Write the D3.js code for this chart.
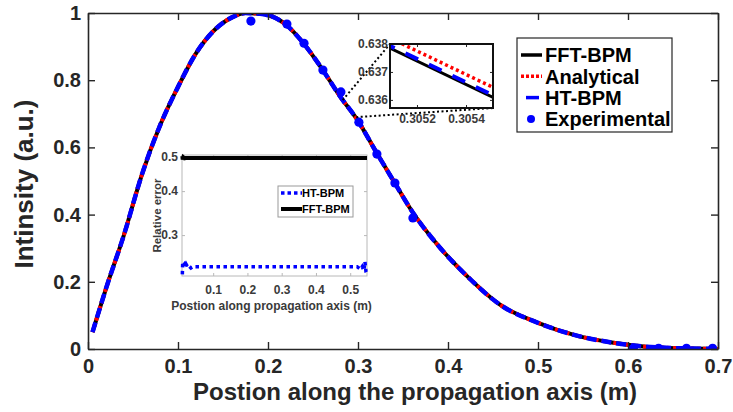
<!DOCTYPE html>
<html>
<head>
<meta charset="utf-8">
<script src="https://cdn.jsdelivr.net/npm/d3@7"></script>
<style>
  html, body { margin: 0; padding: 0; background: #fff; }
  svg text { font-family: "Liberation Sans", Arial, sans-serif; font-weight: bold; }
</style>
</head>
<body>
<svg id="chart" width="733" height="412"></svg>
<script>
// ---- Main intensity profile along the propagation axis ----
const posX = [0.005, 0.02, 0.04, 0.06, 0.08, 0.10, 0.12, 0.14, 0.16, 0.175, 0.19, 0.20,
              0.22, 0.24, 0.26, 0.28, 0.30, 0.32, 0.34, 0.36, 0.39, 0.42, 0.46, 0.50,
              0.54, 0.58, 0.62, 0.66, 0.70];
const analytical = [0.05, 0.18, 0.34, 0.52, 0.665, 0.78, 0.88, 0.948, 0.987, 1.0, 0.998, 0.994,
                    0.965, 0.908, 0.834, 0.752, 0.679, 0.587, 0.498, 0.41, 0.305, 0.22, 0.128, 0.078,
                    0.042, 0.02, 0.007, 0.002, 0.0];
const fftBpm = analytical.slice();
const htBpm = analytical.slice();

// Measured intensities
const expX = [0.181, 0.200, 0.221, 0.240, 0.261, 0.281, 0.301, 0.321, 0.341, 0.361, 0.606, 0.634, 0.665, 0.694];
const expY = [0.976, 1.0, 0.967, 0.91, 0.83, 0.765, 0.675, 0.58, 0.494, 0.39, 0.002, 0.002, 0.002, 0.002];

const xTicks = [0, 0.1, 0.2, 0.3, 0.4, 0.5, 0.6, 0.7];
const yTicks = [0, 0.2, 0.4, 0.6, 0.8, 1];
const legendNames = ["FFT-BPM", "Analytical", "HT-BPM", "Experimental"];

// ---- Magnified detail near z = 0.3052 m ----
const zoomX = [0.30505, 0.30555];
const zoomFft = [0.63802, 0.63592];
const zoomAnalytical = [0.63838, 0.63628];
const zoomHt = [0.63810, 0.63600];
const zoomXTicks = [0.3052, 0.3054];
const zoomYTicks = [0.636, 0.637, 0.638];
// points on the main curve that the magnified box refers to
const zoomLinkFrom = [[0.283, 0.741], [0.298, 0.690]];

// ---- Relative error along the propagation axis ----
const errHtX = [0.010, 0.011, 0.013, 0.016, 0.019, 0.022, 0.026, 0.030, 0.035, 0.040, 0.05, 0.1, 0.2, 0.3,
                0.4, 0.5, 0.52, 0.53, 0.535, 0.54, 0.543, 0.546, 0.549];
const errHtY = [0.232, 0.250, 0.246, 0.248, 0.242, 0.247, 0.243, 0.245, 0.242, 0.244, 0.244, 0.244, 0.244, 0.244,
                0.244, 0.244, 0.244, 0.240, 0.244, 0.238, 0.252, 0.236, 0.233];
const errFftX = [0.010, 0.011, 0.013, 0.016, 0.020, 0.1, 0.2, 0.3, 0.4, 0.5, 0.549];
const errFftY = [0.503, 0.492, 0.499, 0.496, 0.497, 0.497, 0.497, 0.497, 0.497, 0.497, 0.497];
const errXTicks = [0.1, 0.2, 0.3, 0.4, 0.5];
const errYTicks = [0.3, 0.4, 0.5];
const errLegendNames = ["HT-BPM", "FFT-BPM"];

const AX = "#262626";
const BLUE = "#0000ff";
const RED = "#ff0000";
const svg = d3.select("#chart");

// ================= main axes =================
const M = {left: 88, top: 13, right: 718, bottom: 349};
const x = d3.scaleLinear().domain([0, 0.7]).range([M.left, M.right]);
const y = d3.scaleLinear().domain([0, 1]).range([M.bottom, M.top]);

svg.append("defs").append("clipPath").attr("id", "mainClip")
  .append("rect").attr("x", M.left).attr("y", M.top)
  .attr("width", M.right - M.left).attr("height", M.bottom - M.top);

const line = d3.line().x(d => x(d[0])).y(d => y(d[1])).curve(d3.curveMonotoneX);
const plot = svg.append("g").attr("clip-path", "url(#mainClip)");

plot.append("path").datum(posX.map((v, i) => [v, fftBpm[i]]))
  .attr("d", line).attr("fill", "none").attr("stroke", "#000").attr("stroke-width", 4);
plot.append("path").datum(posX.map((v, i) => [v, analytical[i]]))
  .attr("d", line).attr("fill", "none").attr("stroke", RED).attr("stroke-width", 4)
  .attr("stroke-dasharray", "3,3");
plot.append("path").datum(posX.map((v, i) => [v, htBpm[i]]))
  .attr("d", line).attr("fill", "none").attr("stroke", BLUE).attr("stroke-width", 4.5)
  .attr("stroke-dasharray", "10,5");
plot.selectAll("circle.exp").data(expX.map((v, i) => [v, expY[i]])).join("circle")
  .attr("class", "exp").attr("cx", d => x(d[0])).attr("cy", d => y(d[1]))
  .attr("r", 4.6).attr("fill", BLUE);

// axis box with inward ticks on all four sides
const tickLen = 7;
function styleAxis(g) {
  g.select(".domain").attr("stroke", AX).attr("stroke-width", 1.6);
  g.selectAll(".tick line").attr("stroke", AX).attr("stroke-width", 1.4);
  g.selectAll(".tick text").attr("fill", AX).style("font-size", "20px");
}
svg.append("g").attr("transform", `translate(0,${M.bottom})`)
  .call(d3.axisBottom(x).tickValues(xTicks).tickFormat(d3.format("")).tickSize(-tickLen).tickSizeOuter(0).tickPadding(9))
  .call(styleAxis)
  .call(g => g.selectAll(".tick text").attr("dy", "0.76em"));
svg.append("g").attr("transform", `translate(0,${M.top})`)
  .call(d3.axisTop(x).tickValues(xTicks).tickFormat("").tickSize(-tickLen).tickSizeOuter(0))
  .call(styleAxis);
svg.append("g").attr("transform", `translate(${M.left},0)`)
  .call(d3.axisLeft(y).tickValues(yTicks).tickFormat(d3.format("")).tickSize(-tickLen).tickSizeOuter(0).tickPadding(7))
  .call(styleAxis);
svg.append("g").attr("transform", `translate(${M.right},0)`)
  .call(d3.axisRight(y).tickValues(yTicks).tickFormat("").tickSize(-tickLen).tickSizeOuter(0))
  .call(styleAxis);

svg.append("text").attr("x", 415).attr("y", 400)
  .attr("text-anchor", "middle").attr("fill", AX).style("font-size", "24px")
  .text("Postion along the propagation axis (m)");
svg.append("text").attr("transform", `translate(33,${(M.top + M.bottom) / 2 + 3}) rotate(-90)`)
  .attr("text-anchor", "middle").attr("fill", AX).style("font-size", "26px")
  .text("Intinsity (a.u.)");

// ---- main legend ----
const L = {x: 517, y: 38, w: 155, h: 94};
const lg = svg.append("g");
lg.append("rect").attr("x", L.x).attr("y", L.y).attr("width", L.w).attr("height", L.h)
  .attr("fill", "#fff").attr("stroke", AX).attr("stroke-width", 1.2);
const lgStyles = [
  {stroke: "#000", dash: null, w: 3.5, x1: 521, x2: 542},
  {stroke: RED, dash: "3,2", w: 3.5, x1: 521, x2: 542},
  {stroke: BLUE, dash: null, w: 3.5, x1: 526, x2: 539}
];
legendNames.forEach((name, i) => {
  const cy = 55 + i * 21.3;
  if (i < 3) {
    const s = lgStyles[i];
    lg.append("line").attr("x1", s.x1).attr("x2", s.x2).attr("y1", cy).attr("y2", cy)
      .attr("stroke", s.stroke).attr("stroke-width", s.w).attr("stroke-dasharray", s.dash);
  } else {
    lg.append("circle").attr("cx", 531).attr("cy", cy).attr("r", 4).attr("fill", BLUE);
  }
  lg.append("text").attr("x", 545).attr("y", cy).attr("dy", "0.36em")
    .attr("fill", "#000").style("font-size", "20px").text(name);
});

// ================= magnified inset =================
const Z = {left: 390, top: 44, right: 493, bottom: 108};
const zx = d3.scaleLinear().domain([0.30509, 0.30551]).range([Z.left, Z.right]);
const zy = d3.scaleLinear().domain([0.63571, 0.638]).range([Z.bottom, Z.top]);

// connector lines from the curve to the inset corners
const zoomCorners = [[Z.left, Z.top], [Z.right, Z.bottom]];
zoomLinkFrom.forEach((p, i) => {
  svg.append("line").attr("x1", x(p[0])).attr("y1", y(p[1]))
    .attr("x2", zoomCorners[i][0]).attr("y2", zoomCorners[i][1])
    .attr("stroke", "#000").attr("stroke-width", 2).attr("stroke-dasharray", "2,2.5");
});

svg.append("rect").attr("x", Z.left).attr("y", Z.top).attr("width", Z.right - Z.left)
  .attr("height", Z.bottom - Z.top).attr("fill", "#fff");
svg.select("defs").append("clipPath").attr("id", "zoomClip")
  .append("rect").attr("x", Z.left).attr("y", Z.top)
  .attr("width", Z.right - Z.left).attr("height", Z.bottom - Z.top);
const zl = d3.line().x(d => zx(d[0])).y(d => zy(d[1]));
const zp = svg.append("g").attr("clip-path", "url(#zoomClip)");
zp.append("path").datum(zoomX.map((v, i) => [v, zoomFft[i]])).attr("d", zl)
  .attr("fill", "none").attr("stroke", "#000").attr("stroke-width", 3);
zp.append("path").datum(zoomX.map((v, i) => [v, zoomAnalytical[i]])).attr("d", zl)
  .attr("fill", "none").attr("stroke", RED).attr("stroke-width", 3.5).attr("stroke-dasharray", "3,3");
zp.append("path").datum(zoomX.map((v, i) => [v, zoomHt[i]])).attr("d", zl)
  .attr("fill", "none").attr("stroke", BLUE).attr("stroke-width", 4).attr("stroke-dasharray", "14,12")
  .attr("stroke-dashoffset", -2);

function styleSmall(size) {
  return g => {
    g.select(".domain").remove();
    g.selectAll(".tick line").attr("stroke", AX).attr("stroke-width", 1);
    g.selectAll(".tick text").attr("fill", "#3a3a3a").style("font-size", size);
  };
}
svg.append("g").attr("transform", `translate(0,${Z.bottom})`)
  .call(d3.axisBottom(zx).tickValues(zoomXTicks).tickFormat(d3.format(".4f")).tickSize(-3).tickPadding(6))
  .call(styleSmall("12px"));
svg.append("g").attr("transform", `translate(0,${Z.top})`)
  .call(d3.axisTop(zx).tickValues(zoomXTicks).tickFormat("").tickSize(-3))
  .call(styleSmall("12px"));
svg.append("g").attr("transform", `translate(${Z.left},0)`)
  .call(d3.axisLeft(zy).tickValues(zoomYTicks).tickFormat(d3.format(".3f")).tickSize(-3).tickPadding(2))
  .call(styleSmall("12px"));
svg.append("g").attr("transform", `translate(${Z.right},0)`)
  .call(d3.axisRight(zy).tickValues(zoomYTicks).tickFormat("").tickSize(-3))
  .call(styleSmall("12px"));
svg.append("rect").attr("x", Z.left).attr("y", Z.top).attr("width", Z.right - Z.left)
  .attr("height", Z.bottom - Z.top).attr("fill", "none").attr("stroke", "#111").attr("stroke-width", 2);

// ================= relative error inset =================
const E = {left: 182, top: 155, right: 367, bottom: 276};
const ex = d3.scaleLinear().domain([0.009, 0.549]).range([E.left, E.right]);
const ey = d3.scaleLog().domain([0.2296, 0.5066]).range([E.bottom, E.top]);

svg.append("rect").attr("x", E.left).attr("y", E.top).attr("width", E.right - E.left)
  .attr("height", E.bottom - E.top).attr("fill", "#fff");
const eGrey = "#b8b8b8";
function styleErr(g) {
  g.select(".domain").remove();
  g.selectAll(".tick line").attr("stroke", eGrey).attr("stroke-width", 1);
  g.selectAll(".tick text").attr("fill", "#3a3a3a").style("font-size", "12px");
}
svg.append("g").attr("transform", `translate(0,${E.bottom})`)
  .call(d3.axisBottom(ex).tickValues(errXTicks).tickFormat(d3.format("")).tickSize(-3).tickPadding(9))
  .call(styleErr);
svg.append("g").attr("transform", `translate(0,${E.top})`)
  .call(d3.axisTop(ex).tickValues(errXTicks).tickFormat("").tickSize(-3))
  .call(styleErr);
svg.append("g").attr("transform", `translate(${E.left},0)`)
  .call(d3.axisLeft(ey).tickValues(errYTicks).tickFormat(d3.format("")).tickSize(-3).tickPadding(4))
  .call(styleErr);
svg.append("g").attr("transform", `translate(${E.right},0)`)
  .call(d3.axisRight(ey).tickValues(errYTicks).tickFormat("").tickSize(-3))
  .call(styleErr);
svg.append("rect").attr("x", E.left).attr("y", E.top).attr("width", E.right - E.left)
  .attr("height", E.bottom - E.top).attr("fill", "none").attr("stroke", eGrey).attr("stroke-width", 1);

const el = d3.line().x(d => ex(d[0])).y(d => ey(d[1]));
svg.append("path").datum(errFftX.map((v, i) => [v, errFftY[i]])).attr("d", el)
  .attr("fill", "none").attr("stroke", "#000").attr("stroke-width", 4);
svg.append("path").datum(errHtX.map((v, i) => [v, errHtY[i]])).attr("d", el)
  .attr("fill", "none").attr("stroke", BLUE).attr("stroke-width", 3.5).attr("stroke-dasharray", "3.5,3.5");

svg.append("text").attr("x", (E.left + E.right) / 2 - 3).attr("y", 310)
  .attr("text-anchor", "middle").attr("fill", "#3a3a3a").style("font-size", "12px")
  .text("Postion along propagation axis (m)");
svg.append("text").attr("transform", `translate(161,${(E.top + E.bottom) / 2}) rotate(-90)`)
  .attr("text-anchor", "middle").attr("fill", "#3a3a3a").style("font-size", "11.5px")
  .text("Relative error");

// inset legend
const EL = {x: 278, y: 186, w: 75, h: 31};
svg.append("rect").attr("x", EL.x).attr("y", EL.y).attr("width", EL.w).attr("height", EL.h)
  .attr("fill", "#fff").attr("stroke", "#9a9a9a").attr("stroke-width", 1);
const elStyles = [
  {stroke: BLUE, w: 3.5, dash: "3.5,3"},
  {stroke: "#000", w: 4, dash: null}
];
errLegendNames.forEach((name, i) => {
  const cy = 193 + i * 16;
  svg.append("line").attr("x1", 281).attr("x2", 302).attr("y1", cy).attr("y2", cy)
    .attr("stroke", elStyles[i].stroke).attr("stroke-width", elStyles[i].w)
    .attr("stroke-dasharray", elStyles[i].dash);
  svg.append("text").attr("x", 302).attr("y", cy).attr("dy", "0.36em")
    .attr("fill", "#000").style("font-size", "11px").text(name);
});
</script>
</body>
</html>
